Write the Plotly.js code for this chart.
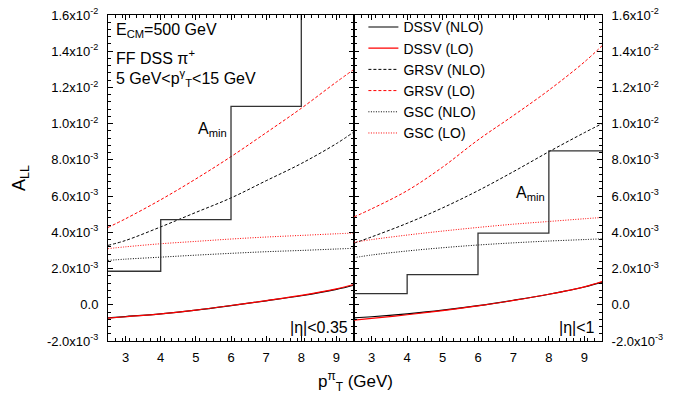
<!DOCTYPE html>
<html>
<head>
<meta charset="utf-8">
<script src="https://cdn.plot.ly/plotly-3.0.1.min.js"></script>
<style>html,body{margin:0;padding:0;background:#fff}#chart{width:681px;height:398px}</style>
</head>
<body>
<div id="chart"></div>
<script>
// values in units of 1e-3
const SCALE = 1e-3;
const ptGrid = [2.5, 3, 4, 5, 6, 7, 8, 9, 9.5];
const binEdges = [2.5, 4, 6, 8, 9.5];

// |eta| < 0.35
const L_dssvNLO = [-0.72, -0.65, -0.50, -0.30, -0.05, 0.22, 0.50, 0.85, 1.08];
const L_dssvLO  = [-0.74, -0.66, -0.50, -0.29, -0.04, 0.23, 0.52, 0.88, 1.12];
const L_grsvNLO = [3.28, 3.55, 4.30, 5.10, 5.90, 6.85, 7.80, 8.90, 9.55];
const L_grsvLO  = [4.27, 4.75, 5.80, 6.95, 8.18, 9.50, 10.85, 12.30, 13.00];
const L_gscNLO  = [2.45, 2.52, 2.63, 2.74, 2.84, 2.93, 3.00, 3.08, 3.12];
const L_gscLO   = [3.10, 3.20, 3.37, 3.50, 3.63, 3.74, 3.83, 3.92, 3.96];
const L_amin    = [1.85, 4.70, 10.95, 20.0, 20.0];

// |eta| < 1
const R_dssvNLO = [-0.72, -0.66, -0.50, -0.30, -0.05, 0.25, 0.58, 0.98, 1.25];
const R_dssvLO  = [-0.85, -0.75, -0.55, -0.32, -0.06, 0.24, 0.58, 0.99, 1.28];
const R_grsvNLO = [3.40, 3.75, 4.50, 5.35, 6.30, 7.35, 8.45, 9.50, 10.00];
const R_grsvLO  = [4.85, 5.30, 6.30, 7.60, 9.10, 10.45, 11.85, 13.40, 14.30];
const R_gscNLO  = [2.60, 2.75, 2.97, 3.15, 3.30, 3.42, 3.52, 3.60, 3.64];
const R_gscLO   = [3.45, 3.60, 3.85, 4.07, 4.27, 4.45, 4.60, 4.75, 4.82];
const R_amin    = [0.62, 1.66, 3.96, 8.50, 8.50];

const seriesNames = ['DSSV (NLO)', 'DSSV (LO)', 'GRSV (NLO)', 'GRSV (LO)', 'GSC (NLO)', 'GSC (LO)'];
const yTickVals = [-2, 0, 2, 4, 6, 8, 10, 12, 14, 16];
const yTickText = ['-2.0x10<sup>-3</sup>', '0.0', '2.0x10<sup>-3</sup>', '4.0x10<sup>-3</sup>',
  '6.0x10<sup>-3</sup>', '8.0x10<sup>-3</sup>', '1.0x10<sup>-2</sup>', '1.2x10<sup>-2</sup>',
  '1.4x10<sup>-2</sup>', '1.6x10<sup>-2</sup>'];

const sc = a => a.map(v => v * SCALE);
const styles = [
  {color: '#000000', width: 1.2, dash: 'solid'},
  {color: '#ff0000', width: 1.2, dash: 'solid'},
  {color: '#000000', width: 1, dash: '3px,2px'},
  {color: '#ff0000', width: 1, dash: '3px,2px'},
  {color: '#000000', width: 1, dash: '1px,1.5px'},
  {color: '#ff0000', width: 1, dash: '1px,1.5px'}
];
const leftSets = [L_dssvNLO, L_dssvLO, L_grsvNLO, L_grsvLO, L_gscNLO, L_gscLO];
const rightSets = [R_dssvNLO, R_dssvLO, R_grsvNLO, R_grsvLO, R_gscNLO, R_gscLO];

const traces = [];
leftSets.forEach((s, i) => traces.push({
  x: ptGrid, y: sc(s), xaxis: 'x', yaxis: 'y', mode: 'lines', name: seriesNames[i],
  line: Object.assign({shape: 'spline'}, styles[i]), showlegend: false, hoverinfo: 'skip'
}));
rightSets.forEach((s, i) => traces.push({
  x: ptGrid, y: sc(s), xaxis: 'x2', yaxis: 'y2', mode: 'lines', name: seriesNames[i],
  line: Object.assign({shape: 'spline'}, styles[i]), showlegend: true, hoverinfo: 'skip'
}));
traces.push({x: binEdges, y: sc(L_amin), xaxis: 'x', yaxis: 'y', mode: 'lines',
  line: {shape: 'hv', color: '#333', width: 1.3}, showlegend: false, hoverinfo: 'skip'});
traces.push({x: binEdges, y: sc(R_amin), xaxis: 'x2', yaxis: 'y2', mode: 'lines',
  line: {shape: 'hv', color: '#333', width: 1.3}, showlegend: false, hoverinfo: 'skip'});

const F = 'Liberation Sans, Arial, sans-serif';
const xBase = {
  range: [2.5, 9.5], tickmode: 'linear', tick0: 3, dtick: 1, ticks: 'inside', ticklen: 5,
  tickwidth: 1, tickcolor: '#000', linecolor: '#000', linewidth: 1, showline: true,
  mirror: 'ticks', showgrid: false, zeroline: false, ticklabelstandoff: 4,
  tickfont: {family: F, size: 13, color: '#000'},
  minor: {tickmode: 'linear', tick0: 2.5, dtick: 0.2, ticks: 'inside', ticklen: 3, tickcolor: '#000', showgrid: false}
};
const yBase = {
  range: [-0.002, 0.016], tickmode: 'array', tickvals: sc(yTickVals), ticktext: yTickText,
  ticks: 'inside', ticklen: 5, tickwidth: 1, tickcolor: '#000', linecolor: '#000', linewidth: 1,
  showline: true, mirror: 'ticks', showgrid: false, zeroline: false, ticklabelstandoff: 6,
  tickfont: {family: F, size: 13, color: '#000'},
  minor: {tickmode: 'linear', tick0: 0, dtick: 0.0004, ticks: 'inside', ticklen: 3, tickcolor: '#000', showgrid: false}
};

const layout = {
  width: 681, height: 398,
  margin: {l: 108, r: 79, t: 14, b: 57},
  paper_bgcolor: '#fff', plot_bgcolor: '#fff',
  font: {family: F, size: 13, color: '#000'},
  xaxis: Object.assign({}, xBase, {domain: [0, 0.498], anchor: 'y'}),
  xaxis2: Object.assign({}, xBase, {domain: [0.498, 1], anchor: 'y2'}),
  yaxis: Object.assign({}, yBase, {anchor: 'x',
    title: {text: 'A<sub>LL</sub>', font: {family: F, size: 18, color: '#000'}, standoff: 16}}),
  yaxis2: Object.assign({}, yBase, {anchor: 'x2', side: 'right', matches: 'y'}),
  showlegend: true,
  legend: {x: 0.517, y: 1.008, xanchor: 'left', yanchor: 'top', bgcolor: 'rgba(0,0,0,0)',
    borderwidth: 0, tracegroupgap: 0, font: {family: F, size: 14, color: '#000'}},
  annotations: [
    {xref: 'paper', yref: 'paper', x: 0.012, y: 0.952, xanchor: 'left', yanchor: 'middle', showarrow: false,
      text: 'E<sub>CM</sub>=500 GeV', font: {family: F, size: 16}},
    {xref: 'paper', yref: 'paper', x: 0.012, y: 0.87, xanchor: 'left', yanchor: 'middle', showarrow: false,
      text: 'FF DSS π<sup>+</sup>', font: {family: F, size: 16}},
    {xref: 'paper', yref: 'paper', x: 0.012, y: 0.808, xanchor: 'left', yanchor: 'middle', showarrow: false,
      text: '5 GeV<p<sup>γ</sup><sub>T</sub><15 GeV', font: {family: F, size: 16}},
    {xref: 'paper', yref: 'paper', x: 0.245, y: 0.648, xanchor: 'right', yanchor: 'middle', showarrow: false,
      text: 'A<sub>min</sub>', font: {family: F, size: 16}},
    {xref: 'paper', yref: 'paper', x: 0.888, y: 0.452, xanchor: 'right', yanchor: 'middle', showarrow: false,
      text: 'A<sub>min</sub>', font: {family: F, size: 16}},
    {xref: 'paper', yref: 'paper', x: 0.49, y: 0.04, xanchor: 'right', yanchor: 'middle', showarrow: false,
      text: '|η|<0.35', font: {family: F, size: 16}},
    {xref: 'paper', yref: 'paper', x: 0.99, y: 0.04, xanchor: 'right', yanchor: 'middle', showarrow: false,
      text: '|η|<1', font: {family: F, size: 16}},
    {xref: 'paper', yref: 'paper', x: 0.5, y: -0.125, xanchor: 'center', yanchor: 'middle', showarrow: false,
      text: 'p<sup>π</sup><sub>T</sub> (GeV)', font: {family: F, size: 17}}
  ]
};

Plotly.newPlot('chart', traces, layout, {staticPlot: true, displayModeBar: false});
</script>
</body>
</html>
